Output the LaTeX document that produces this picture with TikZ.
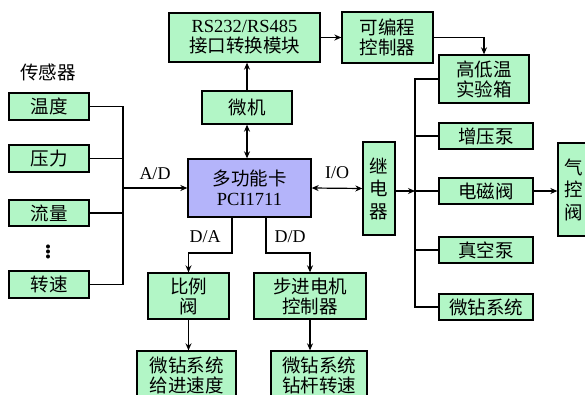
\documentclass[tikz,border=0pt]{standalone}
\usepackage{fontspec}
\setmainfont{Liberation Serif}
\newfontfamily\cjk{Noto Sans CJK SC}
\usetikzlibrary{arrows.meta}
\definecolor{boxgreen}{RGB}{178,246,198}
\definecolor{cardblue}{RGB}{180,180,250}
\begin{document}
\begin{tikzpicture}[x=1pt,y=-1pt,unit/.style={draw,line width=1.3pt,fill=boxgreen,inner sep=0pt,align=center,font=\cjk\fontsize{18.5}{20}\selectfont},card/.style={unit,fill=cardblue},wire/.style={line width=1.2pt},flow/.style={wire,-{Stealth[length=7pt,width=6pt]}},both/.style={wire,{Stealth[length=7pt,width=6pt]}-{Stealth[length=7pt,width=6pt]}},sig/.style={font=\fontsize{18}{20}\selectfont}]
\useasboundingbox (0,0) rectangle (585,395);
\clip (0,0) rectangle (585,395);
\coordinate (ad) at (123,188);
\coordinate (jn) at (415,191);
\coordinate (da) at (232,217);
\coordinate (dd) at (266,217);
\node[font=\cjk\fontsize{18.5}{20}\selectfont] (sensors) at (48,72) {传感器};
\node[unit,minimum width=80,minimum height=27] (temp) at (49,106.5) {温度};
\node[unit,minimum width=80,minimum height=27] (pres) at (49,158.5) {压力};
\node[unit,minimum width=80,minimum height=26] (rate) at (49,213) {流量};
\node[font=\fontsize{34}{34}\selectfont,inner sep=0pt] (dots) at (48,249) {$\vdots$};
\node[unit,minimum width=80,minimum height=27] (speed) at (49,284.5) {转速};
\node[card,minimum width=123,minimum height=58] (daq) at (249.5,188) {多功能卡\\\textrm{PCI1711}};
\node[unit,minimum width=90,minimum height=33] (pc) at (247,107.5) {微机};
\node[unit,minimum width=151,minimum height=49] (conv) at (244.5,37.5) {\textrm{RS232/RS485}\\接口转换模块};
\node[unit,minimum width=91,minimum height=51] (plc) at (387.5,37.5) {可编程\\控制器};
\node[unit,minimum width=32,minimum height=93,font=\cjk\fontsize{18.5}{22.5}\selectfont] (relay) at (379,188.5) {继\\电\\器};
\node[unit,minimum width=90,minimum height=48] (chamber) at (484,79) {高低温\\实验箱};
\node[unit,minimum width=94,minimum height=26] (boost) at (486,136) {增压泵};
\node[unit,minimum width=94,minimum height=26] (valve) at (486,191) {电磁阀};
\node[unit,minimum width=94,minimum height=26] (vacuum) at (486,250) {真空泵};
\node[unit,minimum width=94,minimum height=26] (drill) at (486,307) {微钻系统};
\node[unit,minimum width=32,minimum height=93,font=\cjk\fontsize{18.5}{22.5}\selectfont] (air) at (574,189.5) {气\\控\\阀};
\node[unit,minimum width=81,minimum height=46] (prop) at (188.5,296) {比例\\阀};
\node[unit,minimum width=112,minimum height=46] (stepper) at (310,296) {步进电机\\控制器};
\node[unit,minimum width=99,minimum height=48] (feed) at (186.5,375) {微钻系统\\给进速度};
\node[unit,minimum width=96,minimum height=48] (rot) at (319,375) {微钻系统\\钻杆转速};
\draw[wire] (temp.east) -| (speed.east -| ad) -- (speed.east);
\draw[wire] (pres.east) -- (pres.east -| ad);
\draw[wire] (rate.east) -- (rate.east -| ad);
\draw[flow] (ad) -- (daq.west);
\node[sig] (adlbl) at (155,174) {A/D};
\draw[both] (pc.south) -- (pc.south |- daq.north);
\draw[flow] (pc.north) -- (pc.north |- conv.south);
\draw[flow] (conv.east) -- (plc.west);
\draw[flow] (plc.east) -| (chamber.north);
\draw[both] (daq.east) -- (relay.west);
\node[sig] (iolbl) at (337,173) {I/O};
\draw[flow] (relay.east |- jn) -- (jn);
\draw[wire] (jn) -- (valve.west);
\draw[wire] (chamber.west) -| (drill.west -| jn) -- (drill.west);
\draw[wire] (boost.west) -- (boost.west -| jn);
\draw[wire] (vacuum.west) -- (vacuum.west -| jn);
\draw[flow] (valve.east) -- (air.west |- valve.east);
\draw[flow] (da) -- ++(0,36) -| (prop.north);
\node[sig] (dalbl) at (205,237) {D/A};
\draw[flow] (dd) -- ++(0,36) -| (stepper.north);
\node[sig] (ddlbl) at (290,237) {D/D};
\draw[flow] (prop.south) -- (prop.south |- feed.north);
\draw[flow] (stepper.south) -- (stepper.south |- rot.north);
\end{tikzpicture}
\end{document}
